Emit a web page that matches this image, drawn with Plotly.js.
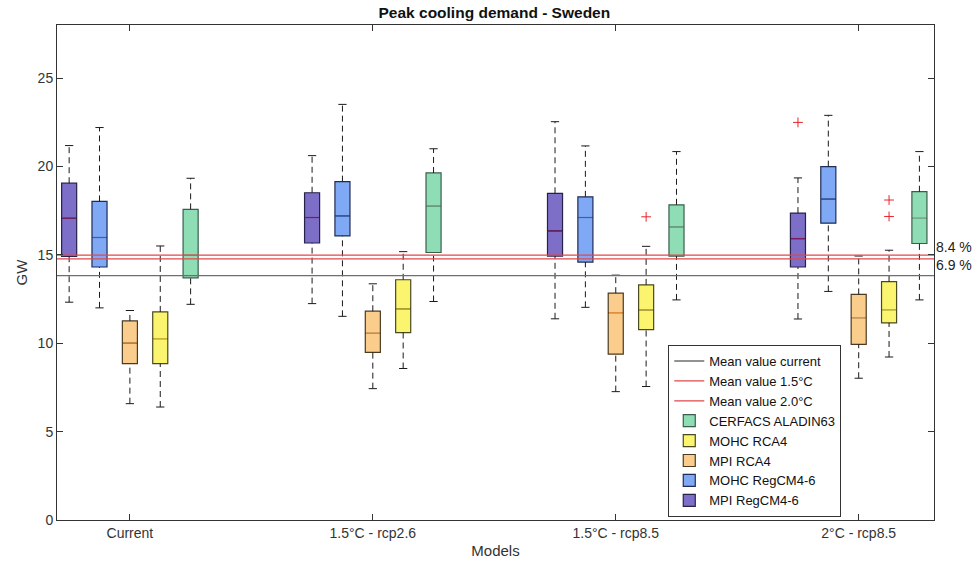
<!DOCTYPE html>
<html>
<head>
<meta charset="utf-8">
<script src="https://cdn.plot.ly/plotly-3.0.1.min.js"></script>
<style>html,body{margin:0;padding:0;background:#fff}#chart{width:977px;height:565px}</style>
</head>
<body>
<div id="chart"></div>
<script>
// Categories (scenarios)
const categories = ["Current", "1.5°C - rcp2.6", "1.5°C - rcp8.5", "2°C - rcp8.5"];

// Series names
const seriesNames = ["MPI RegCM4-6", "MOHC RegCM4-6", "MPI RCA4", "MOHC RCA4", "CERFACS ALADIN63"];

// Box statistics (GW) per series, one value per category
const mpiRegcmLow = [12.32, 12.24, 11.38, 11.37];
const mpiRegcmQ1  = [14.91, 15.67, 14.93, 14.31];
const mpiRegcmMed = [17.07, 17.11, 16.35, 15.92];
const mpiRegcmQ3  = [19.05, 18.51, 18.48, 17.36];
const mpiRegcmHigh= [21.18, 20.61, 22.53, 19.35];

const mohcRegcmLow = [12.00, 11.52, 12.03, 12.93];
const mohcRegcmQ1  = [14.31, 16.07, 14.59, 16.79];
const mohcRegcmMed = [15.98, 17.20, 17.11, 18.15];
const mohcRegcmQ3  = [18.02, 19.14, 18.28, 19.99];
const mohcRegcmHigh= [22.20, 23.51, 21.16, 22.89];

const mpiRcaLow = [6.58, 7.43, 7.26, 8.02];
const mpiRcaQ1  = [8.84, 9.48, 9.38, 9.93];
const mpiRcaMed = [10.01, 10.56, 11.73, 11.45];
const mpiRcaQ3  = [11.26, 11.81, 12.83, 12.76];
const mpiRcaHigh= [11.85, 13.36, 13.85, 14.93];

const mohcRcaLow = [6.39, 8.57, 7.55, 9.22];
const mohcRcaQ1  = [8.84, 10.60, 10.77, 11.15];
const mohcRcaMed = [10.26, 11.94, 11.89, 11.90];
const mohcRcaQ3  = [11.77, 13.59, 13.30, 13.48];
const mohcRcaHigh= [15.50, 15.18, 15.48, 15.26];

const cerfacsLow = [12.20, 12.36, 12.45, 12.45];
const cerfacsQ1  = [13.70, 15.13, 14.93, 15.64];
const cerfacsMed = [14.97, 17.76, 16.58, 17.06];
const cerfacsQ3  = [17.57, 19.63, 17.83, 18.57];
const cerfacsHigh= [19.33, 21.00, 20.84, 20.84];

// Outliers: category index (0-based) and value
const mpiRegcmOutCat = [3];
const mpiRegcmOutVal = [22.49];
const mohcRcaOutCat = [2, 3, 3];
const mohcRcaOutVal = [17.15, 18.10, 17.17];

// Mean reference values (GW)
const meanCurrent = 13.82;
const mean15 = 14.77;
const mean20 = 14.98;

// ---- styling / layout ----
const offsets = [-0.25, -0.125, 0, 0.125, 0.25];
const boxW = 0.062;
const capW = 0.034;
const xRange = [0.70, 4.31];
const fills   = ["#7D6EC8", "#7FA8F5", "#FBCD8C", "#FBF46E", "#8EDDB5"];
const outlines= ["#26234A", "#1F2C55", "#4A3A22", "#4A4A20", "#3A5E4C"];
const medCols = ["#7A1C5E", "#3F5FA8", "#E8923E", "#C9B23A", "#7AAE8E"];

const stats = [
  [mpiRegcmLow, mpiRegcmQ1, mpiRegcmMed, mpiRegcmQ3, mpiRegcmHigh],
  [mohcRegcmLow, mohcRegcmQ1, mohcRegcmMed, mohcRegcmQ3, mohcRegcmHigh],
  [mpiRcaLow, mpiRcaQ1, mpiRcaMed, mpiRcaQ3, mpiRcaHigh],
  [mohcRcaLow, mohcRcaQ1, mohcRcaMed, mohcRcaQ3, mohcRcaHigh],
  [cerfacsLow, cerfacsQ1, cerfacsMed, cerfacsQ3, cerfacsHigh]
];
const legendRanks = [1008, 1007, 1006, 1005, 1004];

const traces = [];
stats.forEach((s, i) => {
  const [lo, q1, med, q3, hi] = s;
  const xs = categories.map((c, g) => g + 1 + offsets[i]);
  // dashed whiskers
  const wx = [], wy = [];
  xs.forEach((x, g) => {
    wx.push(x, x, null, x, x, null);
    wy.push(q3[g], hi[g], null, lo[g], q1[g], null);
  });
  traces.push({type: "scatter", mode: "lines", x: wx, y: wy, showlegend: false, hoverinfo: "skip",
    line: {color: "#1a1a1a", width: 1, dash: "6px,4px"}});
  // caps
  const cx = [], cy = [];
  xs.forEach((x, g) => {
    cx.push(x - capW/2, x + capW/2, null, x - capW/2, x + capW/2, null);
    cy.push(hi[g], hi[g], null, lo[g], lo[g], null);
  });
  traces.push({type: "scatter", mode: "lines", x: cx, y: cy, showlegend: false, hoverinfo: "skip",
    line: {color: "#1a1a1a", width: 1}});
  // boxes
  traces.push({type: "box", name: seriesNames[i], x: xs, q1: q1, median: med, q3: q3,
    lowerfence: q1, upperfence: q3, width: boxW, whiskerwidth: 0,
    fillcolor: fills[i], line: {color: outlines[i], width: 1.2},
    legendrank: legendRanks[i], hoverinfo: "skip"});
  // median lines
  const mx = [], my = [];
  xs.forEach((x, g) => {
    mx.push(x - boxW/2 + 0.003, x + boxW/2 - 0.003, null);
    my.push(med[g], med[g], null);
  });
  traces.push({type: "scatter", mode: "lines", x: mx, y: my, showlegend: false, hoverinfo: "skip",
    line: {color: medCols[i], width: 1.2}});
});

// outliers
function outTrace(cats, vals, si) {
  return {type: "scatter", mode: "markers", x: cats.map(c => c + 1 + offsets[si]), y: vals,
    showlegend: false, hoverinfo: "skip",
    marker: {symbol: "cross-thin-open", size: 7, color: "#E8242B", line: {color: "#E8242B", width: 1}}};
}
traces.push(outTrace(mpiRegcmOutCat, mpiRegcmOutVal, 0));
traces.push(outTrace(mohcRcaOutCat, mohcRcaOutVal, 3));

// mean lines
traces.push({type: "scatter", mode: "lines", name: "Mean value current", x: xRange, y: [meanCurrent, meanCurrent],
  line: {color: "#6E6E6E", width: 1.3}, legendrank: 1001, hoverinfo: "skip"});
traces.push({type: "scatter", mode: "lines", name: "Mean value 1.5°C", x: xRange, y: [mean15, mean15],
  line: {color: "#E0484C", width: 1.2}, legendrank: 1002, hoverinfo: "skip"});
traces.push({type: "scatter", mode: "lines", name: "Mean value 2.0°C", x: xRange, y: [mean20, mean20],
  line: {color: "#E0484C", width: 1.2}, legendrank: 1003, hoverinfo: "skip"});

const pct20 = ((mean20 / meanCurrent - 1) * 100).toFixed(1) + " %";
const pct15 = ((mean15 / meanCurrent - 1) * 100).toFixed(1) + " %";

const sans = "'Liberation Sans', Arial, Helvetica, sans-serif";
const layout = {
  width: 977, height: 565,
  margin: {l: 57, r: 43, t: 25, b: 45},
  paper_bgcolor: "#ffffff", plot_bgcolor: "#ffffff",
  boxmode: "overlay",
  title: {text: "<b>Peak cooling demand - Sweden</b>", x: 0.506, xanchor: "center", y: 0.977, yanchor: "middle",
    font: {family: sans, size: 15.5, color: "#111"}},
  xaxis: {range: xRange, tickvals: [1, 2, 3, 4], ticktext: categories, ticks: "inside", ticklen: 6,
    tickcolor: "#333", showline: true, linecolor: "#333", linewidth: 1, mirror: "ticks",
    showgrid: false, zeroline: false,
    tickfont: {family: sans, size: 14, color: "#333"},
    title: {text: "Models", standoff: 5, font: {family: sans, size: 15, color: "#333"}}},
  yaxis: {range: [0, 28], tickvals: [0, 5, 10, 15, 20, 25], ticks: "inside", ticklen: 6,
    tickcolor: "#333", showline: true, linecolor: "#333", linewidth: 1, mirror: "ticks",
    showgrid: false, zeroline: false,
    tickfont: {family: sans, size: 14, color: "#333"},
    title: {text: "GW", standoff: 6, font: {family: sans, size: 15, color: "#333"}}},
  legend: {x: 0.697, y: 0.006, xanchor: "left", yanchor: "bottom", bgcolor: "#ffffff",
    bordercolor: "#333", borderwidth: 1, tracegroupgap: 0,
    font: {family: sans, size: 13, color: "#111"}},
  annotations: [
    {xref: "paper", yref: "y", x: 1, y: mean20, xanchor: "left", yanchor: "middle", xshift: 0, yshift: 8,
      text: pct20, showarrow: false, font: {family: sans, size: 14, color: "#222"}},
    {xref: "paper", yref: "y", x: 1, y: mean15, xanchor: "left", yanchor: "middle", xshift: 0, yshift: -6,
      text: pct15, showarrow: false, font: {family: sans, size: 14, color: "#222"}}
  ]
};

Plotly.newPlot("chart", traces, layout, {displayModeBar: false, staticPlot: true});
</script>
</body>
</html>
